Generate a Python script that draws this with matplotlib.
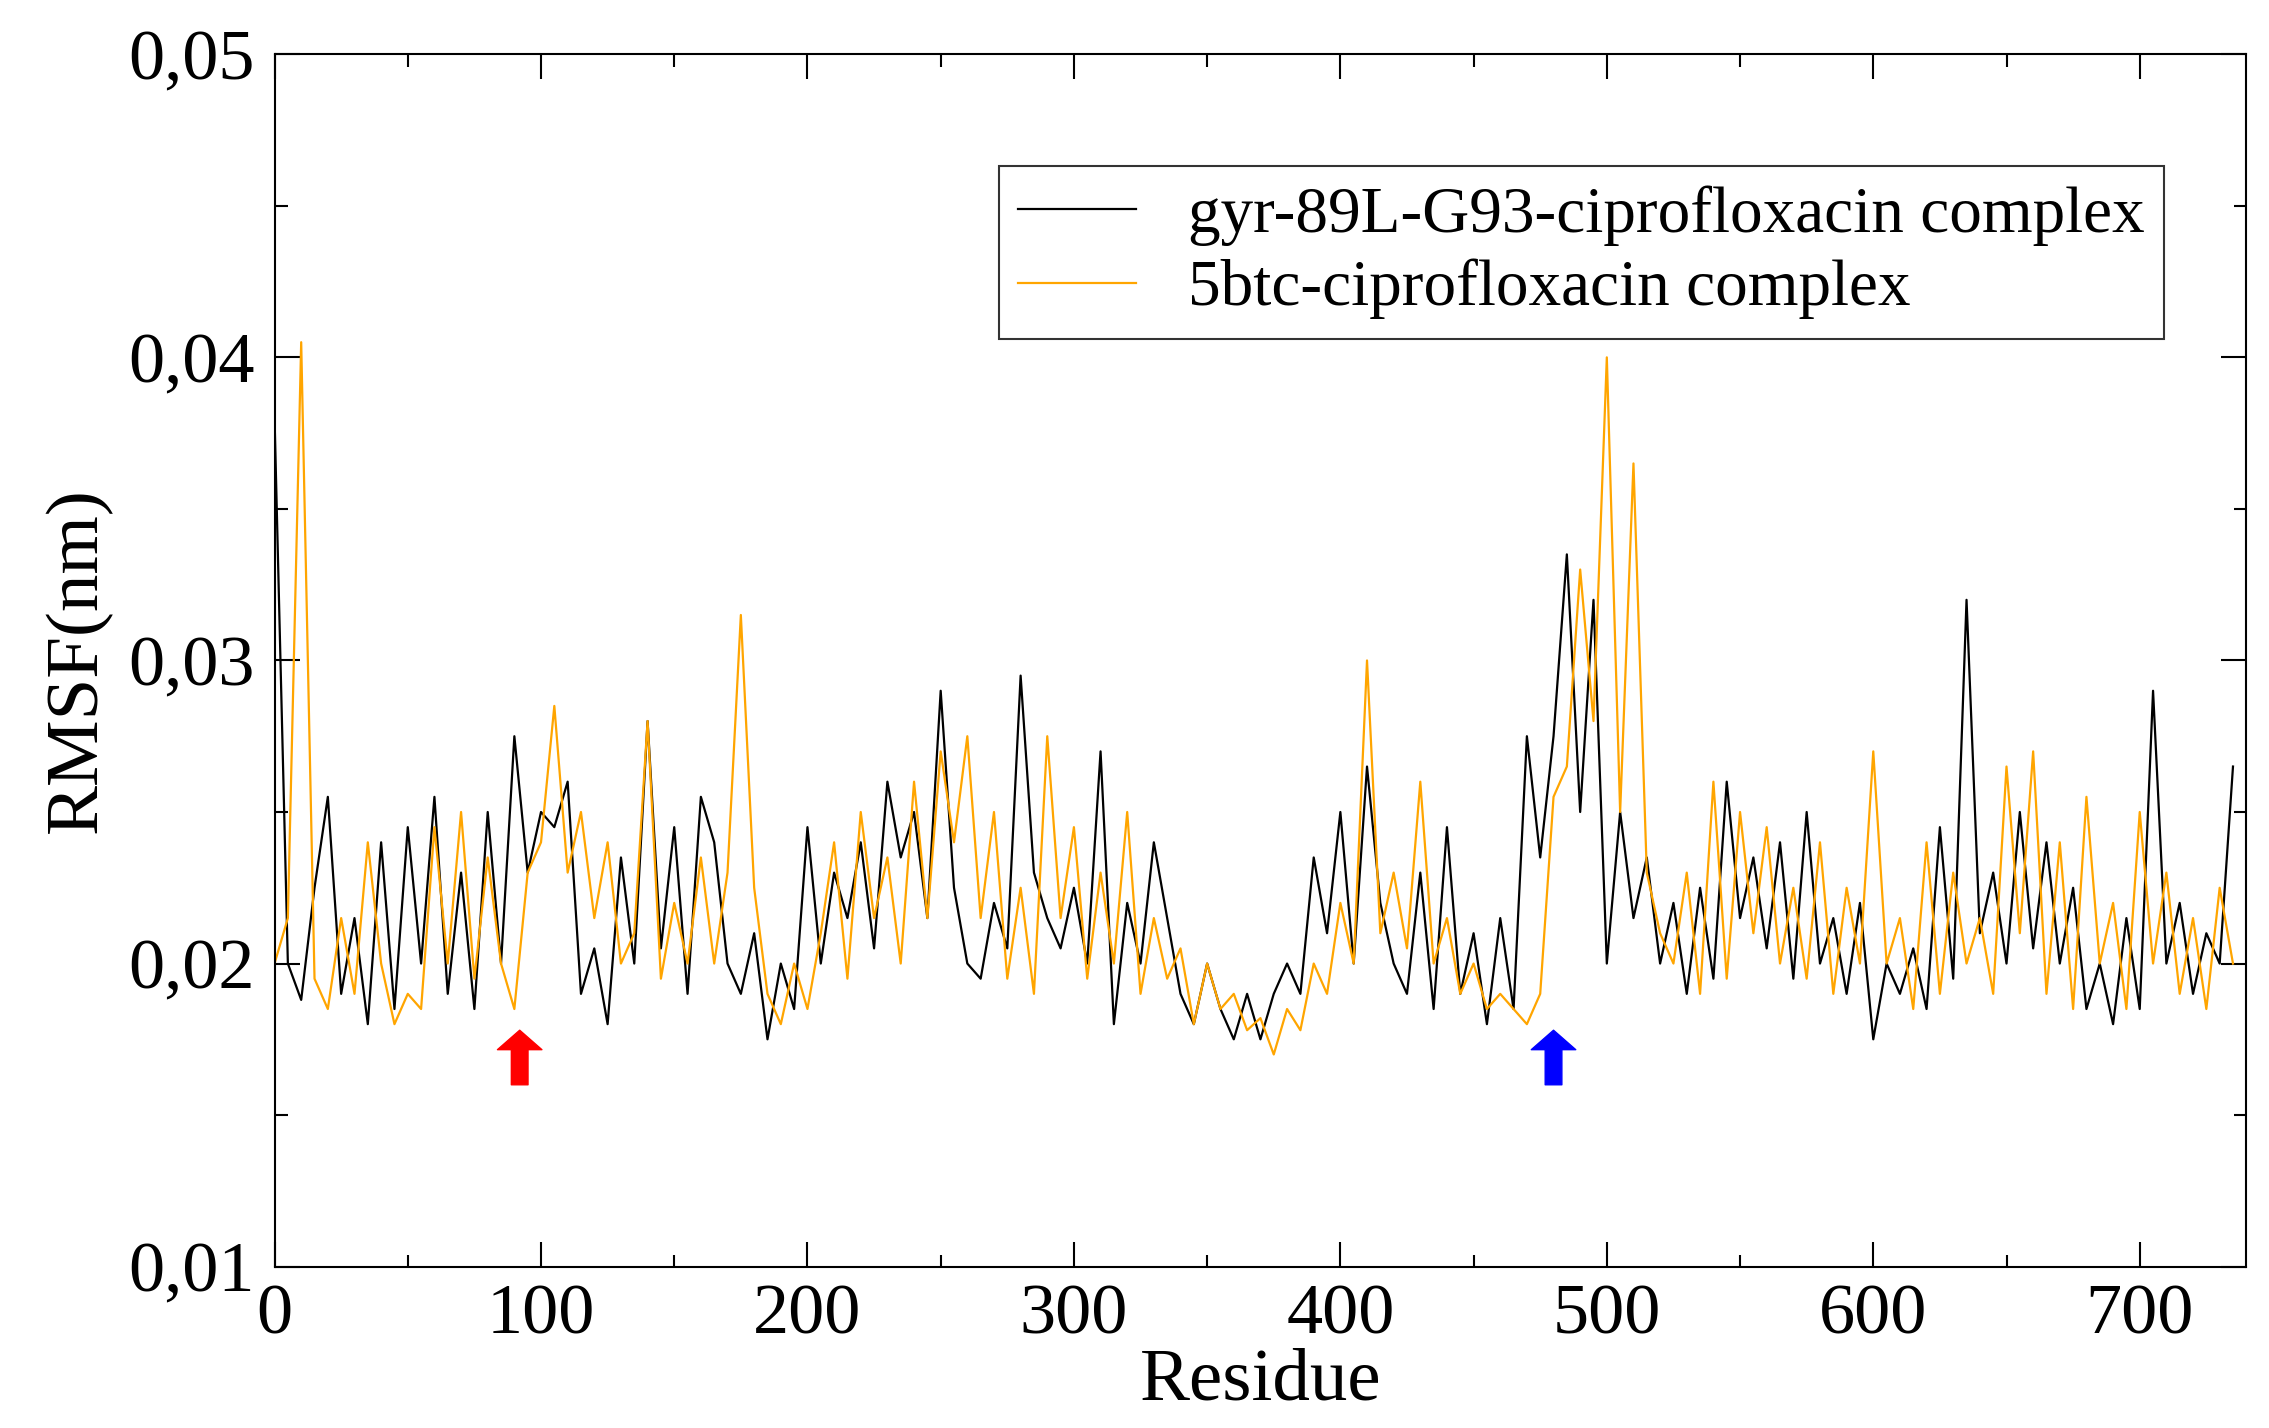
import matplotlib.pyplot as plt
from matplotlib.ticker import MultipleLocator, FuncFormatter

# residues sampled every 5
residue = list(range(0, 740, 5))

gyr_89L = [
    0.0380, 0.0200, 0.0188, 0.0225, 0.0255, 0.0190, 0.0215, 0.0180, 0.0240, 0.0185,
    0.0245, 0.0200, 0.0255, 0.0190, 0.0230, 0.0185, 0.0250, 0.0200, 0.0275, 0.0230,
    0.0250, 0.0245, 0.0260, 0.0190, 0.0205, 0.0180, 0.0235, 0.0200, 0.0280, 0.0205,
    0.0245, 0.0190, 0.0255, 0.0240, 0.0200, 0.0190, 0.0210, 0.0175, 0.0200, 0.0185,
    0.0245, 0.0200, 0.0230, 0.0215, 0.0240, 0.0205, 0.0260, 0.0235, 0.0250, 0.0215,
    0.0290, 0.0225, 0.0200, 0.0195, 0.0220, 0.0205, 0.0295, 0.0230, 0.0215, 0.0205,
    0.0225, 0.0200, 0.0270, 0.0180, 0.0220, 0.0200, 0.0240, 0.0215, 0.0190, 0.0180,
    0.0200, 0.0185, 0.0175, 0.0190, 0.0175, 0.0190, 0.0200, 0.0190, 0.0235, 0.0210,
    0.0250, 0.0200, 0.0265, 0.0220, 0.0200, 0.0190, 0.0230, 0.0185, 0.0245, 0.0190,
    0.0210, 0.0180, 0.0215, 0.0185, 0.0275, 0.0235, 0.0275, 0.0335, 0.0250, 0.0320,
    0.0200, 0.0250, 0.0215, 0.0235, 0.0200, 0.0220, 0.0190, 0.0225, 0.0195, 0.0260,
    0.0215, 0.0235, 0.0205, 0.0240, 0.0195, 0.0250, 0.0200, 0.0215, 0.0190, 0.0220,
    0.0175, 0.0200, 0.0190, 0.0205, 0.0185, 0.0245, 0.0195, 0.0320, 0.0210, 0.0230,
    0.0200, 0.0250, 0.0205, 0.0240, 0.0200, 0.0225, 0.0185, 0.0200, 0.0180, 0.0215,
    0.0185, 0.0290, 0.0200, 0.0220, 0.0190, 0.0210, 0.0200, 0.0265,
]

btc5 = [
    0.0200, 0.0215, 0.0405, 0.0195, 0.0185, 0.0215, 0.0190, 0.0240, 0.0200, 0.0180,
    0.0190, 0.0185, 0.0245, 0.0200, 0.0250, 0.0195, 0.0235, 0.0200, 0.0185, 0.0230,
    0.0240, 0.0285, 0.0230, 0.0250, 0.0215, 0.0240, 0.0200, 0.0210, 0.0280, 0.0195,
    0.0220, 0.0200, 0.0235, 0.0200, 0.0230, 0.0315, 0.0225, 0.0190, 0.0180, 0.0200,
    0.0185, 0.0210, 0.0240, 0.0195, 0.0250, 0.0215, 0.0235, 0.0200, 0.0260, 0.0215,
    0.0270, 0.0240, 0.0275, 0.0215, 0.0250, 0.0195, 0.0225, 0.0190, 0.0275, 0.0215,
    0.0245, 0.0195, 0.0230, 0.0200, 0.0250, 0.0190, 0.0215, 0.0195, 0.0205, 0.0180,
    0.0200, 0.0185, 0.0190, 0.0178, 0.0182, 0.0170, 0.0185, 0.0178, 0.0200, 0.0190,
    0.0220, 0.0200, 0.0300, 0.0210, 0.0230, 0.0205, 0.0260, 0.0200, 0.0215, 0.0190,
    0.0200, 0.0185, 0.0190, 0.0185, 0.0180, 0.0190, 0.0255, 0.0265, 0.0330, 0.0280,
    0.0400, 0.0250, 0.0365, 0.0230, 0.0210, 0.0200, 0.0230, 0.0190, 0.0260, 0.0195,
    0.0250, 0.0210, 0.0245, 0.0200, 0.0225, 0.0195, 0.0240, 0.0190, 0.0225, 0.0200,
    0.0270, 0.0200, 0.0215, 0.0185, 0.0240, 0.0190, 0.0230, 0.0200, 0.0215, 0.0190,
    0.0265, 0.0210, 0.0270, 0.0190, 0.0240, 0.0185, 0.0255, 0.0200, 0.0220, 0.0185,
    0.0250, 0.0200, 0.0230, 0.0190, 0.0215, 0.0185, 0.0225, 0.0200,
]

arrow_residues = [92, 480]
arrow_colors = ["red", "blue"]

plt.rcParams["font.family"] = "Liberation Serif"
fig = plt.figure(figsize=(22.69, 14.28), dpi=100)
ax = fig.add_axes([0.121, 0.113, 0.869, 0.849])

ax.plot(residue, gyr_89L, color="black", lw=1.6, label="gyr-89L-G93-ciprofloxacin complex")
ax.plot(residue, btc5, color="#FFA500", lw=1.6, label="5btc-ciprofloxacin complex")

for r, c in zip(arrow_residues, arrow_colors):
    ax.annotate("", xy=(r, 0.0178), xytext=(r, 0.0160),
                arrowprops=dict(facecolor=c, edgecolor=c, width=12, headwidth=32, headlength=14))

ax.set_xlim(0, 740)
ax.set_ylim(0.01, 0.05)
ax.xaxis.set_major_locator(MultipleLocator(100))
ax.xaxis.set_minor_locator(MultipleLocator(50))
ax.yaxis.set_major_locator(MultipleLocator(0.01))
ax.yaxis.set_minor_locator(MultipleLocator(0.005))
ax.yaxis.set_major_formatter(FuncFormatter(lambda v, p: f"{v:.2f}".replace(".", ",")))
ax.tick_params(which="both", direction="in", top=True, right=True, width=1.5, labelsize=52)
ax.tick_params(which="major", length=18)
ax.tick_params(which="minor", length=9)
ax.tick_params(axis="y", pad=14)
ax.tick_params(axis="x", pad=12)
for s in ax.spines.values():
    s.set_linewidth(1.5)

ax.set_xlabel("Residue", fontsize=54, labelpad=0)
ax.set_ylabel("RMSF(nm)", fontsize=54, labelpad=12)

leg = ax.legend(loc="upper right", bbox_to_anchor=(0.975, 0.935), fontsize=47, frameon=True,
                fancybox=False, edgecolor="black", handlelength=1.8, borderpad=0.3,
                labelspacing=0.2)
leg.get_frame().set_linewidth(1.5)
for line in leg.get_lines():
    line.set_linewidth(1.6)

fig.savefig("out.png", dpi=100)
